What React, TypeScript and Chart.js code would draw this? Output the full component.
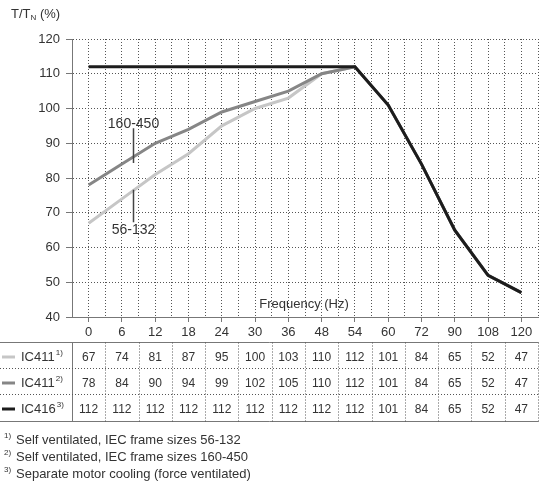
import React, { useEffect, useRef } from "react";
import { Chart, registerables } from "chart.js";

Chart.register(...registerables);

const categories = ["0", "6", "12", "18", "24", "30", "36", "48", "54", "60", "72", "90", "108", "120"];
const ic411Small = [67, 74, 81, 87, 95, 100, 103, 110, 112, 101, 84, 65, 52, 47];
const ic411Large = [78, 84, 90, 94, 99, 102, 105, 110, 112, 101, 84, 65, 52, 47];
const ic416 = [112, 112, 112, 112, 112, 112, 112, 112, 112, 101, 84, 65, 52, 47];
const seriesNames = ["IC411", "IC411", "IC416"];
const seriesNotes = ["1)", "2)", "3)"];
const seriesColors = ["#c6c6c6", "#868686", "#1c1c1c"];
const footnotes = [
  "Self ventilated, IEC frame sizes 56-132",
  "Self ventilated, IEC frame sizes 160-450",
  "Separate motor cooling (force ventilated)",
];
const yTitleMain = "T/T";
const yTitleSub = "N";
const yTitleUnit = " (%)";
const xTitle = "Frequency (Hz)";
const annotLarge = "160-450";
const annotSmall = "56-132";

const FONT = '"Liberation Sans", Arial, sans-serif';
const TEXT = "#333";

const toPoints = (arr: number[]) => arr.map((v, i) => ({ x: i, y: v }));

const overlay = {
  id: "overlay",
  afterDraw(chart: any) {
    const ctx = chart.ctx as CanvasRenderingContext2D;
    const xs = chart.scales.x;
    const ys = chart.scales.y;
    const area = chart.chartArea;
    ctx.save();

    // y title
    ctx.fillStyle = TEXT;
    ctx.textBaseline = "middle";
    ctx.textAlign = "left";
    ctx.font = `13px ${FONT}`;
    let tx = 11;
    ctx.fillText(yTitleMain, tx, 14);
    tx += ctx.measureText(yTitleMain).width;
    ctx.font = `8px ${FONT}`;
    ctx.fillText(yTitleSub, tx, 18);
    tx += ctx.measureText(yTitleSub).width;
    ctx.font = `13px ${FONT}`;
    ctx.fillText(yTitleUnit, tx, 14);

    // x title inside plot
    ctx.textAlign = "center";
    ctx.fillText(xTitle, xs.getPixelForValue(6.47), ys.getPixelForValue(43.5));

    // annotations
    const ax = Math.round(xs.getPixelForValue(1.33)) + 0.5;
    ctx.strokeStyle = "#444";
    ctx.lineWidth = 1.5;
    ctx.beginPath();
    ctx.moveTo(ax, ys.getPixelForValue(94.3));
    ctx.lineTo(ax, ys.getPixelForValue(84.3));
    ctx.moveTo(ax, ys.getPixelForValue(76.6));
    ctx.lineTo(ax, ys.getPixelForValue(67.3));
    ctx.stroke();
    ctx.font = `14px ${FONT}`;
    ctx.fillStyle = TEXT;
    ctx.fillText(annotLarge, ax, ys.getPixelForValue(95.6));
    ctx.fillText(annotSmall, ax, ys.getPixelForValue(65.0));

    // table
    const top = 342.5, bottom = 421.5;
    const rowLines = [368.5, 394.5];
    const rowCenters = [357, 383, 409];
    const right = Math.round(area.right) + 0.5;
    ctx.lineWidth = 1;
    ctx.strokeStyle = "#777";
    ctx.setLineDash([]);
    ctx.beginPath();
    ctx.moveTo(0, top); ctx.lineTo(right, top);
    ctx.moveTo(0, bottom); ctx.lineTo(right, bottom);
    const lx = Math.round(area.left) + 0.5;
    ctx.moveTo(lx, top); ctx.lineTo(lx, bottom);
    ctx.stroke();
    ctx.strokeStyle = "#555";
    ctx.setLineDash([1, 2]);
    ctx.beginPath();
    rowLines.forEach((y) => { ctx.moveTo(0, y); ctx.lineTo(right, y); });
    for (let i = 0; i < categories.length; i++) {
      const x = Math.round(xs.getPixelForValue(i + 0.5)) + 0.5;
      ctx.moveTo(x, top); ctx.lineTo(x, bottom);
    }
    ctx.stroke();
    ctx.setLineDash([]);

    const rows = [ic411Small, ic411Large, ic416];
    rows.forEach((vals, r) => {
      const cy = rowCenters[r];
      ctx.strokeStyle = seriesColors[r];
      ctx.lineWidth = 3;
      ctx.beginPath();
      ctx.moveTo(2, cy); ctx.lineTo(15, cy);
      ctx.stroke();
      ctx.fillStyle = TEXT;
      ctx.textAlign = "left";
      ctx.font = `13px ${FONT}`;
      ctx.fillText(seriesNames[r], 21, cy);
      const w = ctx.measureText(seriesNames[r]).width;
      ctx.font = `8px ${FONT}`;
      ctx.fillText(seriesNotes[r], 21 + w + 1, cy - 4);
      ctx.font = `12px ${FONT}`;
      ctx.textAlign = "center";
      vals.forEach((v, i) => {
        ctx.fillText(String(v), xs.getPixelForValue(i), cy + 1);
      });
    });

    // footnotes
    footnotes.forEach((t, i) => {
      const cy = 440 + i * 17;
      ctx.textAlign = "left";
      ctx.font = `8px ${FONT}`;
      ctx.fillText(seriesNotes[i], 4, cy - 4);
      ctx.font = `13px ${FONT}`;
      ctx.fillText(t, 16, cy);
    });

    ctx.restore();
  },
};

export default function App() {
  const ref = useRef<HTMLCanvasElement | null>(null);
  useEffect(() => {
    if (!ref.current) return;
    const chart = new Chart(ref.current, {
      type: "line",
      data: {
        datasets: [
          { label: "IC416 3)", data: toPoints(ic416), borderColor: seriesColors[2], borderWidth: 3, pointRadius: 0, tension: 0 },
          { label: "IC411 2)", data: toPoints(ic411Large), borderColor: seriesColors[1], borderWidth: 3, pointRadius: 0, tension: 0 },
          { label: "IC411 1)", data: toPoints(ic411Small), borderColor: seriesColors[0], borderWidth: 3, pointRadius: 0, tension: 0 },
        ],
      },
      options: {
        animation: false,
        responsive: false,
        devicePixelRatio: 1,
        layout: { padding: { left: 0, top: 39, right: 19, bottom: 137 } },
        plugins: { legend: { display: false }, tooltip: { enabled: false }, title: { display: false } },
        scales: {
          x: {
            type: "linear",
            min: -0.5,
            max: 13.5,
            afterBuildTicks: (s: any) => {
              s.ticks = Array.from({ length: 29 }, (_, i) => ({ value: -0.5 + i * 0.5 }));
            },
            afterFit: (s: any) => { s.height = 30; },
            ticks: {
              autoSkip: false,
              maxRotation: 0,
              padding: 3,
              color: TEXT,
              font: { family: FONT, size: 13 },
              callback: (v: any) => (Number.isInteger(v) ? categories[v] : ""),
            },
            grid: {
              color: "#555",
              tickLength: 5,
              tickColor: (c: any) => (c.tick && Number.isInteger(c.tick.value) ? "#777" : "rgba(0,0,0,0)"),
              tickBorderDash: [],
            },
            border: { display: true, color: "#777", width: 1, dash: [1, 2] },
          },
          y: {
            min: 40,
            max: 120,
            afterBuildTicks: (s: any) => {
              s.ticks = Array.from({ length: 9 }, (_, i) => ({ value: 40 + i * 10 }));
            },
            afterFit: (s: any) => { s.width = 72; },
            ticks: { padding: 6, color: TEXT, font: { family: FONT, size: 13 } },
            grid: { color: "#555", tickLength: 6, tickColor: "#777", tickBorderDash: [] },
            border: { display: true, color: "#777", width: 1, dash: [1, 2] },
          },
        },
      },
      plugins: [overlay],
    } as any);
    return () => chart.destroy();
  }, []);
  return (
    <div style={{ position: "absolute", left: 0, top: 0, width: 557, height: 484, background: "#fff" }}>
      <canvas ref={ref} width={557} height={484} style={{ display: "block", width: 557, height: 484 }} />
    </div>
  );
}
